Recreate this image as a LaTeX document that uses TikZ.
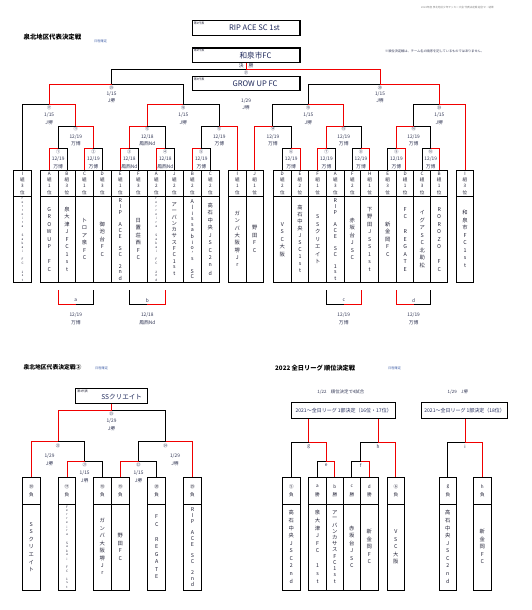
\documentclass[tikz,border=0pt]{standalone}
\usepackage{fontspec}
\setmainfont{Noto Sans CJK JP}
\makeatletter
\newdimen\vt@p
\newcommand\vtext[2]{\vbox{\offinterlineskip\vt@p=#1\relax\@tfor\vt@c:=#2\do{\hbox to 0pt{\hss\vbox to \vt@p{\vss\hbox{\vt@c}\vss}\hss}}}}
\makeatother
\newcommand\fs[1]{\fontsize{#1}{#1}\selectfont}
\definecolor{labc}{RGB}{50,55,85}
\definecolor{teamc}{RGB}{35,35,55}
\definecolor{boxc}{RGB}{30,40,90}
\definecolor{bluec}{RGB}{70,100,170}
\definecolor{rdc}{RGB}{240,0,0}
\tikzset{
 ln/.style={line width=0.85pt,black},
 rd/.style={line width=0.85pt,rdc},
 cl/.style={draw,line width=1pt},
 bbox/.style={draw,line width=1.2pt,inner sep=0},
 lab/.style={inner sep=0,font=\fs{4.8},text=labc},
 num/.style={inner sep=0,font=\fs{4.2},text=labc},
 team/.style={inner sep=0,font=\fs{5.3},text=teamc},
 tiny/.style={inner sep=0,font=\fs{3.1},text=teamc},
 hd/.style={inner sep=0,font=\fs{4.6},text=teamc},
 small/.style={inner sep=0,font=\fs{3},text=teamc,anchor=north west},
}
% match: xl xm xr y yl yr side
\newcommand\mt[7]{%
 \if#7L
  \draw[ln] (#2,#4)--(#3,#4)--(#3,#6);
  \draw[rd] (#1,#5)--(#1,#4)--(#2,#4);
 \else
  \draw[ln] (#1,#5)--(#1,#4)--(#2,#4);
  \draw[rd] (#2,#4)--(#3,#4)--(#3,#6);
 \fi}
% labels: x y num date venue
\newcommand\ml[5]{%
 \node[num] at (#1,#2+3.3) {#3};
 \node[lab] at (#1,#2+10.6) {#4};
 \node[lab] at (#1,#2+18) {#5};}
% inverted bracket: xl xm xr side letter date venue
\newcommand\imt[7]{%
 \if#4L
  \draw[ln] (#2,304.3)--(#3,304.3)--(#3,290);
  \draw[rd] (#1,290)--(#1,304.3)--(#2,304.3);
 \else
  \draw[ln] (#1,290)--(#1,304.3)--(#2,304.3);
  \draw[rd] (#2,304.3)--(#3,304.3)--(#3,290);
 \fi
 \node[lab] at (#2,300.4) {#5};
 \node[lab] at (#2,315) {#6};
 \node[lab] at (#2,322.5) {#7};}
% top column: xl xr header pitch team style
\newcommand\tcol[6]{%
 \draw[cl] (#1,170) rectangle (#2,282.3);
 \draw[cl] (#1,196)--(#2,196);
 \node[hd] at ({(#1+#2)/2},183) {\vtext{6.3pt}{#3}};
 \node[#6] at ({(#1+#2)/2},239.2) {\vtext{#4}{#5}};}
% lower column
\newcommand\lcol[6]{%
 \draw[cl] (#1,477.3) rectangle (#2,590);
 \draw[cl] (#1,504)--(#2,504);
 \node[hd] at ({(#1+#2)/2},490.6) {\vtext{8pt}{#3}};
 \node[#6] at ({(#1+#2)/2},547) {\vtext{#4}{#5}};}
\begin{document}
\begin{tikzpicture}[x=1pt,y=-1pt]
\fill[white] (0,0) rectangle (532,610);
\useasboundingbox (0,0) rectangle (532,610);

% ---------- titles and notes
\node[anchor=west,inner sep=0,font=\fs{2.6},text=gray] (hdr) at (421,7.5) {2022年度 泉北地区少年サッカー大会 代表決定戦 組合せ・結果};
\node[anchor=west,inner sep=0,font=\fs{6.4}\bfseries] (t1) at (23.4,36.6) {泉北地区代表決定戦};
\node[anchor=west,inner sep=0,font=\fs{3.2},text=bluec] (t1s) at (94,41) {日程確定};
\node[anchor=west,inner sep=0,font=\fs{3.2},text=labc] (note) at (385,51.6) {※順位決定戦は、チーム名の順序を記しているものではありません。};

% ---------- representative boxes
\node[bbox,minimum width=107.8pt,minimum height=15pt] (b1) at (246.1,28) {};
\node[small] at ([shift={(2,1.8)}]b1.north west) {第1代表};
\node[inner sep=0,font=\fs{7.6},text=boxc] at (254.5,28) {RIP ACE SC 1st};
\node[bbox,minimum width=107.8pt,minimum height=14.3pt] (b2) at (246.1,55.2) {};
\node[small] at ([shift={(2,1.8)}]b2.north west) {第2代表};
\node[inner sep=0,font=\fs{7.6},text=boxc] at (255.5,55.2) {和泉市FC};
\node[bbox,minimum width=107.8pt,minimum height=14.4pt] (b3) at (246.1,83.5) {};
\node[small] at ([shift={(2,1.8)}]b3.north west) {第3代表};
\node[inner sep=0,font=\fs{7.6},text=boxc] at (255,83.5) {GROW UP FC};

% ---------- final
\coordinate (m31) at (246.1,69.8);
\draw[rd] (b2.south) -- (m31);
\node[lab] at (246.1,65.8) {決　勝};
\node[num] at (246.1,73.2) {㉛};
\node[lab] at (246.1,100.7) {1/29};
\node[lab] at (246.1,107.8) {J堺};
\mt{111.5}{246.1}{380}{69.8}{84.7}{84.7}{R}

% ---------- columns (top)
\tcol{13.3}{31.7}{I組3位}{4.1pt}{Ferreira~Sakai~FC~1st}{tiny}
\tcol{40.3}{58.3}{A組1位}{7.5pt}{GROWUP~FC}{team}
\tcol{58.3}{75.7}{B組3位}{7.5pt}{泉大津JFC1st}{team}
\tcol{75.7}{93.3}{C組1位}{7.5pt}{トロア泉FC}{team}
\tcol{93.3}{111.3}{D組3位}{7.5pt}{御池台FC}{team}
\tcol{111.3}{129.3}{E組1位}{6pt}{RIP~ACE~SC~2nd}{team}
\tcol{129.3}{147.3}{F組3位}{7.5pt}{日置荘西FC}{team}
\tcol{147.3}{165.3}{A組2位}{4.1pt}{Ferreira~Sakai~FC~2nd}{tiny}
\tcol{165.3}{183.3}{J組2位}{6.3pt}{アーバンカサスFC1st}{team}
\tcol{183.3}{201.3}{B組2位}{5.8pt}{Alissabio's~SC}{team}
\tcol{201.3}{219.3}{C組2位}{7.5pt}{高石中央JSC2nd}{team}
\tcol{228.7}{246}{I組1位}{7.5pt}{ガンバ大阪堺Jr}{team}
\tcol{246}{263.3}{J組1位}{7.5pt}{野田FC}{team}
\tcol{273.3}{291.3}{D組2位}{7.5pt}{VSC大阪}{team}
\tcol{291.3}{308.7}{E組2位}{7pt}{高石中央JSC1st}{team}
\tcol{308.7}{326.7}{F組1位}{7.5pt}{SSクリエイト}{team}
\tcol{326.7}{344}{A組3位}{6pt}{RIP~ACE~SC~1st}{team}
\tcol{344}{360.7}{F組2位}{7.5pt}{赤坂台JSC}{team}
\tcol{360.7}{378.7}{H組1位}{7.5pt}{下野田JSS1st}{team}
\tcol{378.7}{396.7}{E組3位}{7.5pt}{新金岡FC}{team}
\tcol{396.7}{413.7}{D組1位}{7.5pt}{FC~REGATE}{team}
\tcol{413.7}{430.7}{C組3位}{7.5pt}{イグアSC北助松}{team}
\tcol{430.7}{447.7}{B組1位}{7.5pt}{ROROZO~FC}{team}
\tcol{456.3}{473.7}{I組3位}{7.5pt}{和泉市FC1st}{team}

% ---------- semifinals
\mt{49.15}{111.5}{183.3}{84.7}{104.3}{104.3}{L}
\mt{308.3}{380}{439.3}{84.7}{104.3}{104.3}{R}
\node[num] at (111.5,87.9) {㉙};
\node[lab] at (111.5,93.8) {1/15};
\node[lab] at (111.5,100.9) {J堺};
\node[num] at (380,87.9) {㉚};
\node[lab] at (380,93.8) {1/15};
\node[lab] at (380,100.9) {J堺};

% ---------- quarterfinals
\mt{22.5}{49.15}{75.8}{104.3}{170}{126}{R}
\mt{147.3}{183.3}{219.3}{104.3}{126}{126}{L}
\mt{272.9}{308.3}{343.75}{104.3}{126}{126}{R}
\mt{413.6}{439.3}{465}{104.3}{126}{170}{R}
\ml{49.15}{104.3}{⑰}{1/15}{J堺}
\ml{183.3}{104.3}{⑱}{1/15}{J堺}
\ml{308.3}{104.3}{⑲}{1/15}{J堺}
\ml{439.3}{104.3}{⑳}{1/15}{J堺}

% ---------- level 3
\mt{58.15}{75.8}{93.4}{126}{148.3}{148.3}{R}
\mt{129.3}{147.3}{165.3}{126}{148.3}{148.3}{L}
\mt{201.3}{219.3}{237.35}{126}{148.3}{170}{R}
\mt{254.65}{272.9}{291.15}{126}{170}{148.3}{L}
\mt{326.5}{343.75}{361}{126}{148.3}{148.3}{L}
\mt{396.45}{413.6}{430.7}{126}{148.3}{148.3}{L}
\ml{75.8}{126}{⑪}{12/19}{万博}
\ml{147.3}{126}{⑫}{12/18}{鳳西Nd}
\ml{219.3}{126}{⑬}{12/19}{万博}
\ml{272.9}{126}{⑭}{12/19}{万博}
\ml{343.75}{126}{⑮}{12/19}{万博}
\ml{413.6}{126}{⑯}{12/19}{万博}

% ---------- level 4
\mt{49.3}{58.15}{67}{148.3}{170}{170}{L}
\mt{84.5}{93.4}{102.3}{148.3}{170}{170}{L}
\mt{120.3}{129.3}{138.3}{148.3}{170}{170}{L}
\mt{156.3}{165.3}{174.3}{148.3}{170}{170}{L}
\mt{192.3}{201.3}{210.3}{148.3}{170}{170}{L}
\mt{282.3}{291.15}{300}{148.3}{170}{170}{R}
\mt{317.7}{326.5}{335.35}{148.3}{170}{170}{L}
\mt{352.35}{361}{369.7}{148.3}{170}{170}{R}
\mt{387.7}{396.45}{405.2}{148.3}{170}{170}{R}
\mt{422.2}{430.7}{439.2}{148.3}{170}{170}{R}
\ml{58.15}{148.3}{①}{12/19}{万博}
\ml{93.4}{148.3}{②}{12/19}{万博}
\ml{129.3}{148.3}{③}{12/18}{鳳西Nd}
\ml{165.3}{148.3}{④}{12/18}{鳳西Nd}
\ml{201.3}{148.3}{⑤}{12/19}{万博}
\ml{291.15}{148.3}{⑥}{12/19}{万博}
\ml{326.5}{148.3}{⑦}{12/19}{万博}
\ml{361}{148.3}{⑧}{12/19}{万博}
\ml{396.45}{148.3}{⑨}{12/19}{万博}
\ml{430.7}{148.3}{⑩}{12/19}{万博}

% ---------- loser brackets a-d
\imt{58.15}{75.8}{93.4}{L}{a}{12/19}{万博}
\imt{129.3}{147.3}{165.3}{R}{b}{12/18}{鳳西Nd}
\imt{326.5}{343.75}{361}{R}{c}{12/19}{万博}
\imt{396.45}{413.6}{430.7}{L}{d}{12/19}{万博}

% ========== lower left: 4th representative
\node[anchor=west,inner sep=0,font=\fs{5.8}\bfseries] (t2) at (23.3,367.7) {泉北地区代表決定戦②};
\node[anchor=west,inner sep=0,font=\fs{3.2},text=bluec] (t2s) at (95,368.5) {日程確定};
\node[bbox,minimum width=71.6pt,minimum height=15pt] (b4) at (111.5,395.8) {};
\node[small] at ([shift={(2,1.8)}]b4.north west) {第4代表};
\node[inner sep=0,font=\fs{6.6},text=boxc] at (121.7,396.6) {SSクリエイト};
\coordinate (m25) at (111.5,410);
\draw[rd] (b4.south) -- (m25);

\lcol{22.3}{40.3}{㉚負}{7.5pt}{SSクリエイト}{team}
\lcol{58.7}{75.3}{⑰負}{4pt}{Ferreira~Sakai~FC~1st}{tiny}
\lcol{93.3}{111.3}{⑱負}{7.5pt}{ガンバ大阪堺Jr}{team}
\lcol{111.3}{129.3}{⑲負}{7.5pt}{野田FC}{team}
\lcol{147.7}{165.7}{⑳負}{7.5pt}{FC~REGATE}{team}
\lcol{183.7}{201.3}{㉙負}{5.75pt}{RIP~ACE~SC~2nd}{team}

\mt{58}{111.5}{165.5}{410}{441.7}{441.7}{L}
\mt{31.3}{58}{84.65}{441.7}{477.3}{461}{L}
\mt{138.5}{165.5}{192.5}{441.7}{461}{477.3}{R}
\mt{67}{84.65}{102.3}{461}{477.3}{477.3}{L}
\mt{120.3}{138.5}{156.7}{461}{477.3}{477.3}{L}
\node[num] at (111.5,413.4) {㉕};
\node[lab] at (111.5,420.9) {1/29};
\node[lab] at (111.5,428.3) {J堺};
\node[num] at (58,445.4) {㉓};
\node[lab] at (49.5,455.7) {1/29};
\node[lab] at (49.5,463.3) {J堺};
\node[num] at (165.5,445.4) {㉔};
\node[lab] at (175,455.7) {1/29};
\node[lab] at (175,463.3) {J堺};
\node[num] at (84.65,465) {㉑};
\node[lab] at (84.65,473.3) {1/15};
\node[lab] at (84.65,480.8) {J堺};
\node[num] at (138.5,465) {㉒};
\node[lab] at (138.5,473.3) {1/15};
\node[lab] at (138.5,480.8) {J堺};

% ========== lower right: league ranking
\node[anchor=west,inner sep=0,font=\fs{6.2}\bfseries] (t3) at (275,367.7) {2022 全日リーグ 順位決定戦};
\node[anchor=west,inner sep=0,font=\fs{3.2},text=bluec] (t3s) at (388,368.5) {日程確定};
\node[inner sep=0,font=\fs{4.4},text=labc] at (340.8,391.7) {1/22　順位決定で4試合};
\node[inner sep=0,font=\fs{4.4},text=labc] at (457.8,391.7) {1/29　J堺};
\node[bbox,minimum width=104pt,minimum height=16pt] (bA) at (343.7,410.3) {};
\node[inner sep=0,font=\fs{5},text=boxc] at (343.7,410.3) {2021～全日リーグ 1部決定（16位・17位）};
\node[bbox,minimum width=86pt,minimum height=16pt] (bB) at (464.7,410.3) {};
\node[inner sep=0,font=\fs{5},text=boxc] at (464.7,410.3) {2021～全日リーグ 1部決定（18位）};
\coordinate (mg) at (308.7,442.3);
\coordinate (mh) at (378.2,442.3);
\coordinate (mi) at (465.05,442.3);
\draw[rd] (bA.south -| mg) -- (mg);
\draw[rd] (bA.south -| mh) -- (mh);
\draw[rd] (bB.south -| mi) -- (mi);

\lcol{282.3}{300.3}{⑤負}{7.6pt}{高石中央JSC2nd}{team}
\lcol{308.7}{326.3}{a勝}{7.6pt}{泉大津JFC~1st}{team}
\lcol{326.3}{343.3}{b勝}{6.3pt}{アーバンカサスFC1st}{team}
\lcol{343.3}{360.3}{c勝}{7.5pt}{赤坂台JSC}{team}
\lcol{360.3}{378.3}{d勝}{7.5pt}{新金岡FC}{team}
\lcol{387.3}{404.3}{⑥負}{7.5pt}{VSC大阪}{team}
\lcol{439.3}{456.3}{g負}{7.6pt}{高石中央JSC2nd}{team}
\lcol{473.3}{491.3}{h負}{7.5pt}{新金岡FC}{team}

\mt{291.3}{308.7}{326.15}{442.3}{477.3}{461}{R}
\mt{317.5}{326.15}{334.8}{461}{477.3}{477.3}{R}
\mt{360.55}{378.2}{395.8}{442.3}{461}{477.3}{R}
\mt{351.8}{360.55}{369.3}{461}{477.3}{477.3}{R}
\mt{447.8}{465.05}{482.3}{442.3}{477.3}{477.3}{R}
\node[lab] at (308.7,446.6) {g};
\node[lab] at (326.15,465.3) {e};
\node[lab] at (378.2,446.6) {h};
\node[lab] at (360.55,465.3) {f};
\node[lab] at (465.05,446.6) {i};
\end{tikzpicture}
\end{document}
